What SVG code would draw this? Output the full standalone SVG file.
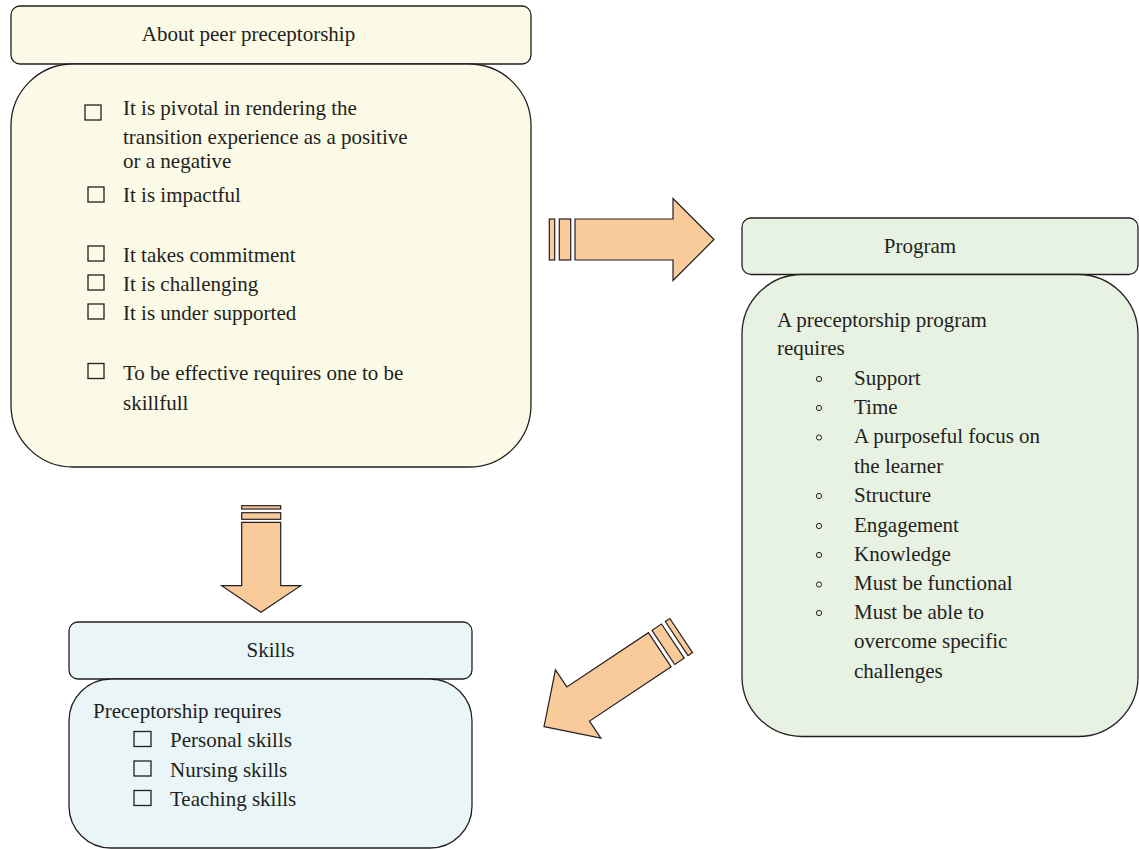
<svg xmlns="http://www.w3.org/2000/svg" width="1139" height="849" viewBox="0 0 1139 849">
<style>
.t{font-family:"Liberation Serif","Times New Roman",serif;font-size:21px;fill:#231f20}
.c{text-anchor:middle}
.box{stroke:#231f20;stroke-width:1.3}
.y{fill:#fbfae6}
.g{fill:#e8f2e3}
.b{fill:#e9f5f7}
.chk{fill:none;stroke:#231f20;stroke-width:1.3}
.bul{fill:none;stroke:#231f20;stroke-width:1}
.arr{fill:#f9cb9a;stroke:#231f20;stroke-width:1.2;stroke-linejoin:miter}
</style>
<defs>
<g id="bigArrow">
<polygon class="arr" points="0,0 -41,-41 -41,-20.5 -139,-20.5 -139,20.5 -41,20.5 -41,41"/>
<rect class="arr" x="-154.7" y="-20.5" width="11.4" height="41"/>
<rect class="arr" x="-164.7" y="-20.5" width="5.4" height="41"/>
</g>
</defs>
<rect width="1139" height="849" fill="#ffffff"/>

<g id="about">
<rect class="box y" x="11" y="6" width="520" height="58" rx="9"/>
<rect class="box y" x="11" y="64" width="520" height="403" rx="62"/>
<text class="t c" x="248.5" y="41">About peer preceptorship</text>
<rect class="chk" x="85" y="105" width="16" height="15"/>
<text class="t" x="123" y="115">It is pivotal in rendering the</text>
<text class="t" x="123" y="144">transition experience as a positive</text>
<text class="t" x="123" y="168">or a negative</text>
<rect class="chk" x="88" y="187" width="16" height="15"/>
<text class="t" x="123" y="201.5">It is impactful</text>
<rect class="chk" x="88" y="246" width="16" height="15"/>
<text class="t" x="123" y="261.5">It takes commitment</text>
<rect class="chk" x="88" y="275" width="16" height="15"/>
<text class="t" x="123" y="291">It is challenging</text>
<rect class="chk" x="88" y="304" width="16" height="15"/>
<text class="t" x="123" y="320">It is under supported</text>
<rect class="chk" x="88" y="363.5" width="16" height="15"/>
<text class="t" x="123" y="380">To be effective requires one to be</text>
<text class="t" x="123" y="410">skillfull</text>
</g>

<g id="program">
<rect class="box g" x="742" y="218" width="396" height="56.5" rx="9"/>
<rect class="box g" x="742" y="274.5" width="396" height="462" rx="60"/>
<text class="t c" x="920" y="253">Program</text>
<text class="t" x="777" y="327">A preceptorship program</text>
<text class="t" x="777" y="355">requires</text>
<g>
<circle class="bul" cx="819" cy="379" r="2.6"/>
<text class="t" x="854" y="385">Support</text>
<circle class="bul" cx="819" cy="408" r="2.6"/>
<text class="t" x="854" y="413.5">Time</text>
<circle class="bul" cx="819" cy="437.5" r="2.6"/>
<text class="t" x="854" y="443">A purposeful focus on</text>
<text class="t" x="854" y="472.5">the learner</text>
<circle class="bul" cx="819" cy="496" r="2.6"/>
<text class="t" x="854" y="501.5">Structure</text>
<circle class="bul" cx="819" cy="526" r="2.6"/>
<text class="t" x="854" y="531.5">Engagement</text>
<circle class="bul" cx="819" cy="555" r="2.6"/>
<text class="t" x="854" y="560.5">Knowledge</text>
<circle class="bul" cx="819" cy="584.5" r="2.6"/>
<text class="t" x="854" y="590">Must be functional</text>
<circle class="bul" cx="819" cy="613" r="2.6"/>
<text class="t" x="854" y="618.5">Must be able to</text>
<text class="t" x="854" y="648">overcome specific</text>
<text class="t" x="854" y="678">challenges</text>
</g>
</g>

<g id="skills">
<rect class="box b" x="69" y="622" width="403" height="57" rx="9"/>
<rect class="box b" x="69" y="679" width="403" height="169" rx="42"/>
<text class="t c" x="270.5" y="657">Skills</text>
<text class="t" x="93" y="718">Preceptorship requires</text>
<rect class="chk" x="134" y="731.5" width="17" height="15"/>
<text class="t" x="170" y="747">Personal skills</text>
<rect class="chk" x="134" y="761" width="17" height="15"/>
<text class="t" x="170" y="777">Nursing skills</text>
<rect class="chk" x="134" y="790.5" width="17" height="15"/>
<text class="t" x="170" y="806">Teaching skills</text>
</g>

<g id="connectors">
<use href="#bigArrow" transform="translate(714,239.5)"/>
<use href="#bigArrow" transform="translate(544,726.7) rotate(146.4)"/>
<g>
<polygon class="arr" points="261,612.3 221.7,585.7 241.7,585.7 241.7,522.3 280.7,522.3 280.7,585.7 300.7,585.7"/>
<rect class="arr" x="241.7" y="512.7" width="39" height="6.6"/>
<rect class="arr" x="241.7" y="505.7" width="39" height="3.3"/>
</g>
</g>
</svg>
